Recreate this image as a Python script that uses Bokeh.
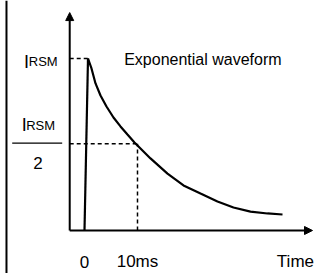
from bokeh.plotting import figure
from bokeh.models import Range1d, Arrow, NormalHead
from bokeh.core.properties import value
from bokeh.embed import file_html
from bokeh.resources import INLINE

# ---- data (time in ms, current relative to I_RSM) ----
rise_t = [0.0, 0.66]
rise_i = [0.0, 1.0]

decay_t = [0.66, 1.32, 2.08, 3.02, 4.15, 5.47, 6.79, 8.11, 9.43, 12.45,
           15.66, 18.68, 21.89, 25.09, 28.11, 31.32, 34.53, 37.36]
decay_i = [1.0, 0.942, 0.855, 0.785, 0.721, 0.657, 0.605, 0.558, 0.512, 0.419,
           0.331, 0.262, 0.215, 0.169, 0.134, 0.110, 0.099, 0.093]

peak_level = 1.0
half_level = 0.505
half_time = 10.0

x_tick_vals = [0.0, 10.0]
x_tick_labels = ["0", "10ms"]
x_axis_title = "Time"
curve_title = "Exponential waveform"

FONT = value("Liberation Sans")
DY = 0.041  # baseline correction for the svg text renderer

p = figure(width=327, height=273, output_backend="svg", toolbar_location=None,
           x_axis_type=None, y_axis_type=None, min_border=0,
           x_range=Range1d(-15.849, 45.849), y_range=Range1d(-0.25, 1.3372))
p.outline_line_color = None
p.background_fill_color = "white"
p.border_fill_color = "white"

# left frame line
p.line([-14.72, -14.72], [-0.25, 1.3372], line_color="black", line_width=2)

# axes with arrow heads
axis_x0 = -2.79
p.add_layout(Arrow(end=NormalHead(size=8, fill_color="black", line_color="black"),
                   x_start=axis_x0, y_start=0, x_end=axis_x0, y_end=1.267,
                   line_color="black", line_width=2))
p.add_layout(Arrow(end=NormalHead(size=8, fill_color="black", line_color="black"),
                   x_start=axis_x0, y_start=0, x_end=43.02, y_end=0,
                   line_color="black", line_width=2))

# dashed guides
p.line([axis_x0, rise_t[1]], [peak_level, peak_level], line_color="black",
       line_width=1.5, line_dash="4 3")
p.line([axis_x0, half_time], [half_level, half_level], line_color="black",
       line_width=1.5, line_dash="4 3")
p.line([half_time, half_time], [0, half_level], line_color="black",
       line_width=1.5, line_dash="4 3")

# waveform
p.line(rise_t, rise_i, line_color="black", line_width=2.2)
p.line(decay_t, decay_i, line_color="black", line_width=2.2)

# x tick labels and title
p.text(x=x_tick_vals, y=[-0.223 + DY] * 2, text=x_tick_labels, text_font=FONT,
       text_font_size="17px", text_align="center", text_baseline="alphabetic",
       text_color="black")
p.text(x=[39.8], y=[-0.223 + DY], text=[x_axis_title], text_font=FONT,
       text_font_size="17px", text_align="center", text_baseline="alphabetic",
       text_color="black")

# curve title
p.text(x=[7.49], y=[0.955 + DY], text=[curve_title], text_font=FONT,
       text_font_size="16px", text_align="left", text_baseline="alphabetic",
       text_color="black")

# y labels: I_RSM and I_RSM / 2
p.text(x=[-11.42, -11.85], y=[0.940 + DY, 0.5715 + DY], text=["I", "I"], text_font=FONT,
       text_font_size="18px", text_align="left", text_baseline="alphabetic",
       text_color="black")
p.text(x=[-10.51, -11.0], y=[0.940 + DY, 0.5715 + DY], text=["RSM", "RSM"], text_font=FONT,
       text_font_size="13px", text_align="left", text_baseline="alphabetic",
       text_color="black")
p.line([-13.64, -4.21], [0.5076, 0.5076], line_color="black", line_width=1.2)
p.text(x=[-8.77], y=[0.353 + DY], text=["2"], text_font=FONT,
       text_font_size="17px", text_align="center", text_baseline="alphabetic",
       text_color="black")

open("out.html", "w").write(file_html(p, INLINE))
